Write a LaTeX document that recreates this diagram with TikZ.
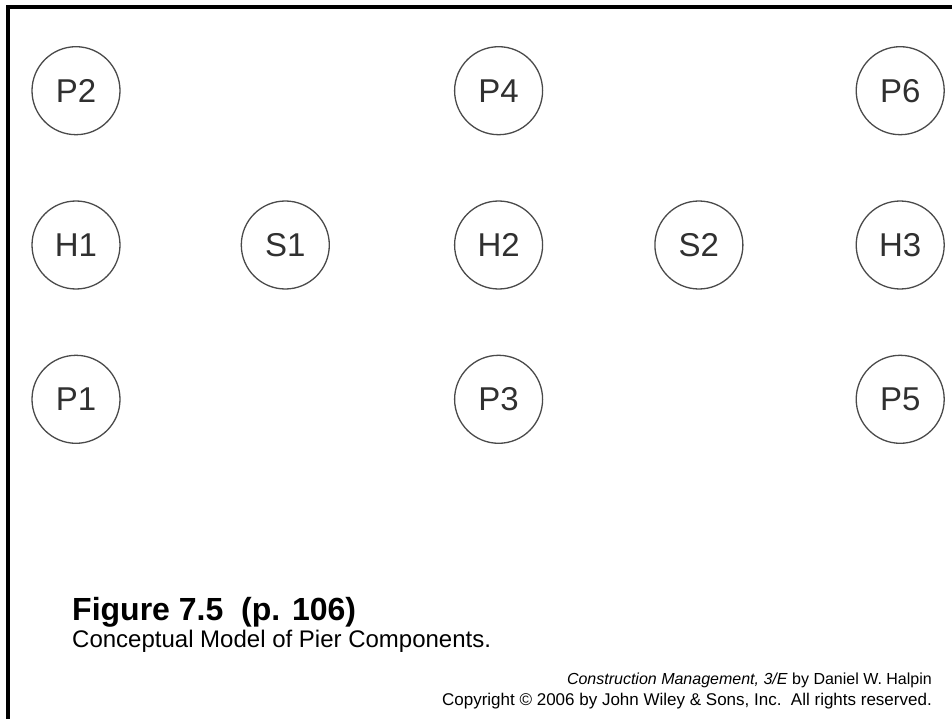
\documentclass[tikz,border=0pt]{standalone}
\usepackage{fontspec}
\setmainfont{Liberation Sans}
\usetikzlibrary{positioning}

\definecolor{ringgray}{HTML}{4A4A4A}
\definecolor{labelgray}{HTML}{303030}

\begin{document}
\begin{tikzpicture}[
    x=1pt, y=-1pt,
    node distance=65pt,
    part/.style={circle, draw=ringgray, line width=1.3pt, minimum size=88pt, inner sep=0pt,
        text=labelgray, font=\fontsize{33}{33}\selectfont},
    frameline/.style={line width=3.5pt, line cap=rect}
]
\useasboundingbox (0,0) rectangle (952,719);

% slide frame, top and left edges only
\coordinate (corner) at (8,7);
\coordinate (topend) at (952,7);
\coordinate (leftend) at (8,719);
\draw[frameline] (topend) -- (corner) -- (leftend);

% middle row: hoppers and spans
\node[part] (H1) at (76,245) {H1};
\node[part, right=120pt of H1] (S1) {S1};
\node[part, right=124pt of S1] (H2) {H2};
\node[part, right=111pt of H2] (S2) {S2};
\node[part, right=112pt of S2] (H3) {H3};

% piers above and below each hopper
\node[part, above=of H1] (P2) {P2};
\node[part, below=of H1] (P1) {P1};
\node[part, above=of H2] (P4) {P4};
\node[part, below=of H2] (P3) {P3};
\node[part, above=of H3] (P6) {P6};
\node[part, below=of H3] (P5) {P5};

% caption
\node[anchor=base west, inner sep=0pt, font=\fontsize{32}{32}\selectfont\bfseries] (fig) at (72,620) {Figure 7.5\ \ (p. 106)};
\node[anchor=base west, inner sep=0pt, font=\fontsize{24}{24}\selectfont] (cap) at (72,647) {Conceptual Model of Pier Components.};

% source lines
\node[anchor=base east, inner sep=0pt, font=\fontsize{16}{16}\selectfont] (book) at (932,684) {\textit{Construction Management, 3/E} by Daniel W. Halpin};
\node[anchor=base east, inner sep=0pt, font=\fontsize{17}{17}\selectfont] (copy) at (932,705) {Copyright © 2006 by John Wiley \& Sons, Inc.\ \ All rights reserved.};
\end{tikzpicture}
\end{document}
